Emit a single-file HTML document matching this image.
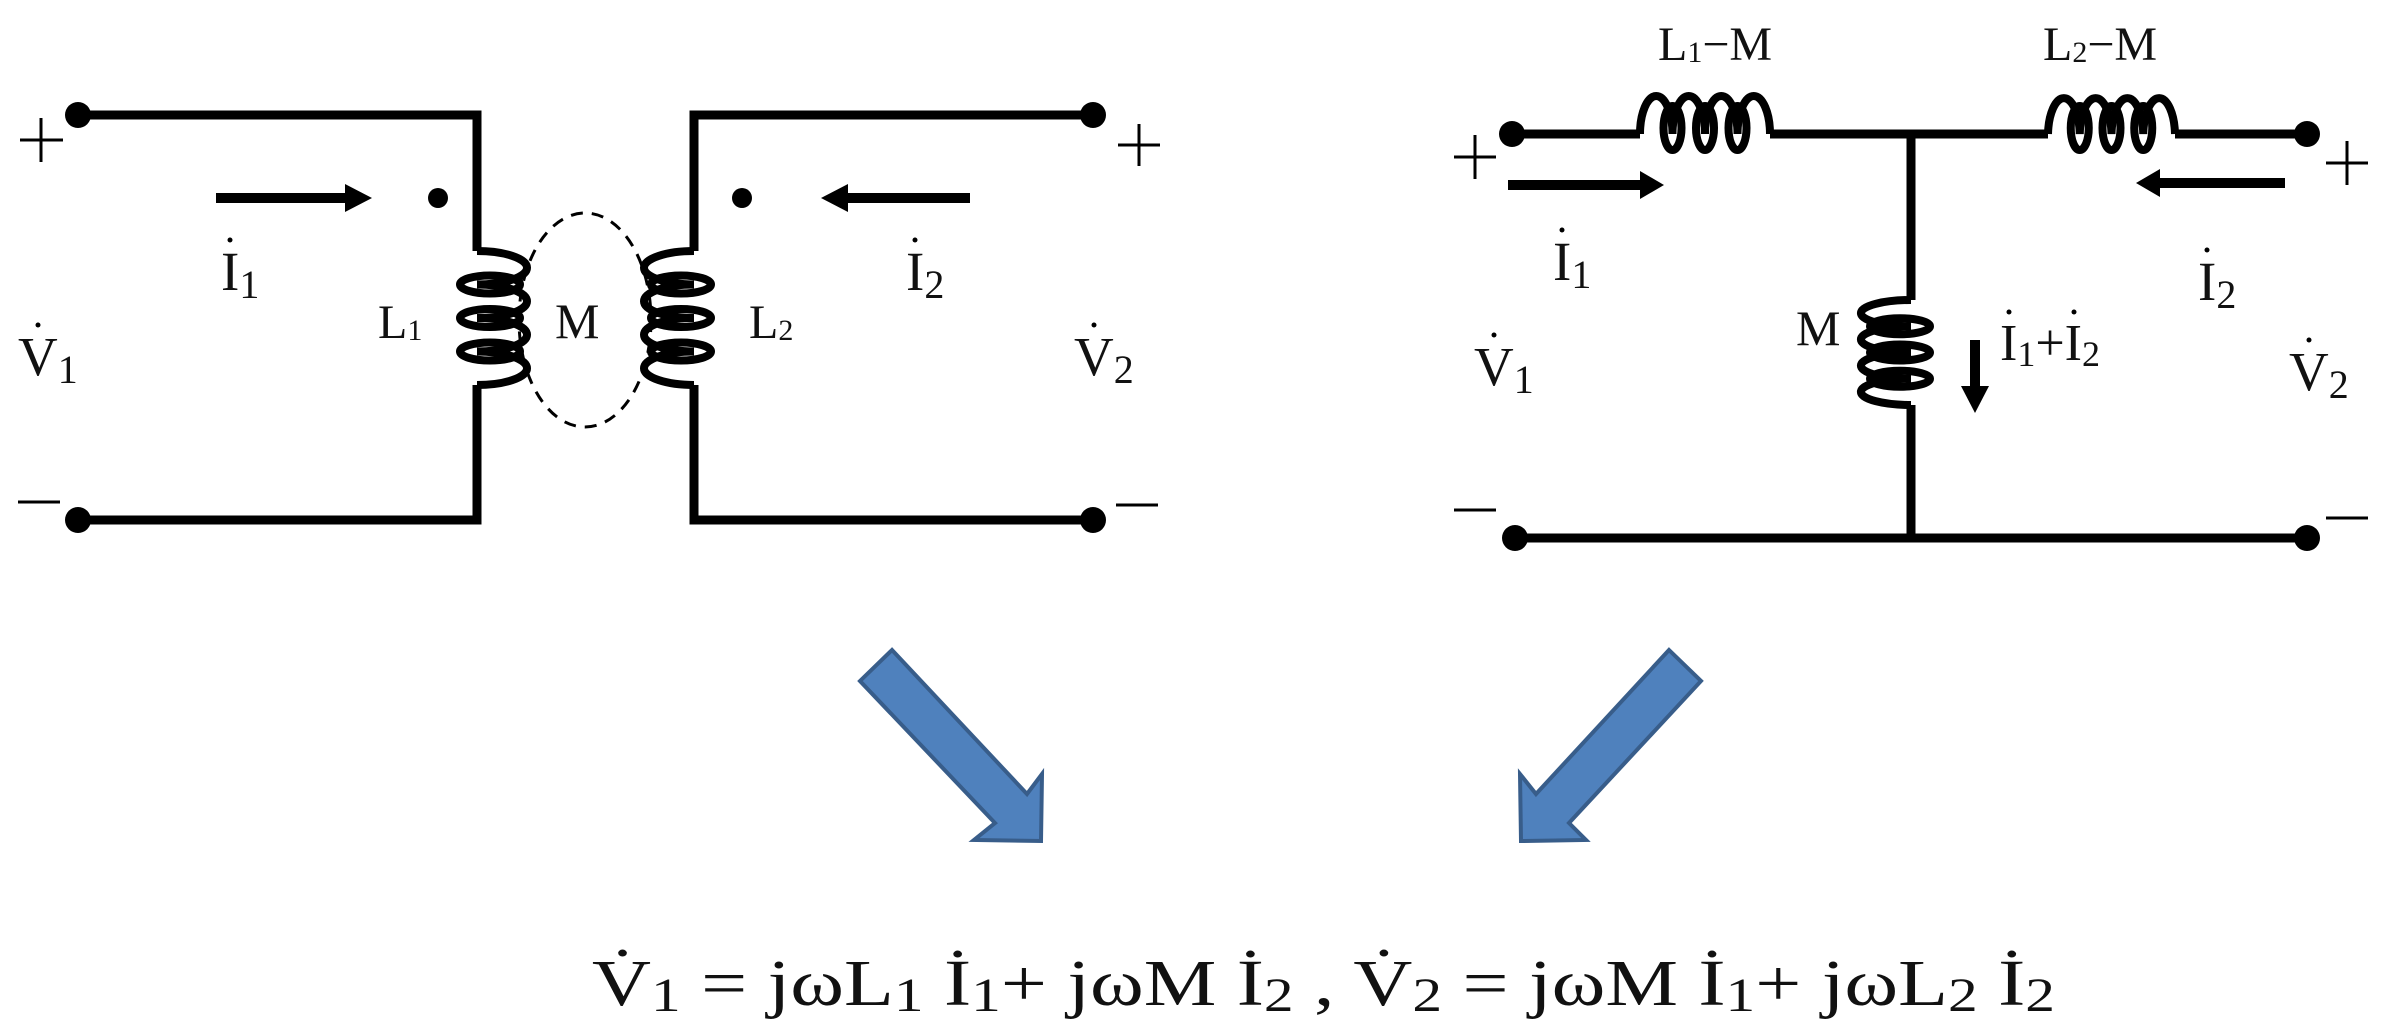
<!DOCTYPE html>
<html><head><meta charset="utf-8"><style>
html,body{margin:0;padding:0;background:#fff;}
svg{display:block;}
text{font-family:"Liberation Serif",serif;fill:#111;}
</style></head><body>
<svg width="2388" height="1026" viewBox="0 0 2388 1026" xmlns="http://www.w3.org/2000/svg">
<g fill="none" stroke="#000" stroke-width="9" stroke-linejoin="miter">
<path d="M78 115 H477 V251"/>
<path d="M477 385 V520 H78"/>
<path d="M694 251 V115 H1093"/>
<path d="M694 385 V520 H1093"/>
</g>
<g fill="none" stroke="#000" stroke-width="8">
<path d="M477 251 A50 16.75 0 0 1 477 284.5 A50 16.75 0 0 1 477 318 A50 16.75 0 0 1 477 351.5 A50 16.75 0 0 1 477 385"/>
<ellipse cx="490" cy="284.5" rx="30" ry="9"/>
<ellipse cx="490" cy="318" rx="30" ry="9"/>
<ellipse cx="490" cy="351.5" rx="30" ry="9"/>
<path d="M694 251 A50 16.75 0 0 0 694 284.5 A50 16.75 0 0 0 694 318 A50 16.75 0 0 0 694 351.5 A50 16.75 0 0 0 694 385"/>
<ellipse cx="681" cy="284.5" rx="30" ry="9"/>
<ellipse cx="681" cy="318" rx="30" ry="9"/>
<ellipse cx="681" cy="351.5" rx="30" ry="9"/>
</g>
<ellipse cx="585" cy="320" rx="66" ry="107" fill="none" stroke="#000" stroke-width="3" stroke-dasharray="12 9"/>
<g fill="#000">
<circle cx="78" cy="115" r="13"/><circle cx="78" cy="520" r="13"/>
<circle cx="1093" cy="115" r="13"/><circle cx="1093" cy="520" r="13"/>
<circle cx="438" cy="198" r="10"/><circle cx="742" cy="198" r="10"/>
<polygon points="345,184 372,198 345,212"/>
<polygon points="848,184 821,198 848,212"/>
</g>
<g stroke="#000" stroke-width="10">
<line x1="216" y1="198" x2="350" y2="198"/>
<line x1="843" y1="198" x2="970" y2="198"/>
</g>
<g stroke="#000" stroke-width="3">
<line x1="20" y1="140" x2="63" y2="140"/><line x1="41" y1="118" x2="41" y2="162"/>
<line x1="18" y1="502" x2="60" y2="502"/>
<line x1="1118" y1="145" x2="1160" y2="145"/><line x1="1139" y1="124" x2="1139" y2="166"/>
<line x1="1116" y1="505" x2="1158" y2="505"/>
</g>
<text x="221" y="290" font-size="55">I<tspan font-size="40" dy="8">1</tspan></text>
<circle cx="230" cy="240" r="2.5" fill="#000"/>
<text x="18" y="375" font-size="55">V<tspan font-size="40" dy="8">1</tspan></text>
<circle cx="38" cy="325" r="2.5" fill="#000"/>
<text x="906" y="290" font-size="55">I<tspan font-size="40" dy="8">2</tspan></text>
<circle cx="915" cy="240" r="2.5" fill="#000"/>
<text x="1074" y="375" font-size="55">V<tspan font-size="40" dy="8">2</tspan></text>
<circle cx="1094" cy="325" r="2.5" fill="#000"/>
<text x="378" y="338" font-size="48">L<tspan font-size="30" dy="2">1</tspan></text>
<text x="555" y="338" font-size="50">M</text>
<text x="749" y="338" font-size="48">L<tspan font-size="30" dy="2">2</tspan></text>

<g fill="none" stroke="#000" stroke-width="9">
<path d="M1512 134 H1640"/>
<path d="M1770 134 H2048"/>
<path d="M2175 134 H2307"/>
<path d="M1911 134 V300"/>
<path d="M1911 405 V538"/>
<path d="M1515 538 H2307"/>
</g>
<g fill="none" stroke="#000" stroke-width="8">
<path d="M1640 134 A16.25 38 0 0 1 1672.5 134 A16.25 38 0 0 1 1705 134 A16.25 38 0 0 1 1737.5 134 A16.25 38 0 0 1 1770 134"/>
<ellipse cx="1672.5" cy="128" rx="9" ry="22"/>
<ellipse cx="1705" cy="128" rx="9" ry="22"/>
<ellipse cx="1737.5" cy="128" rx="9" ry="22"/>
<path d="M2048 134 A15.9 38 0 0 1 2079.75 134 A15.9 38 0 0 1 2111.5 134 A15.9 38 0 0 1 2143.25 134 A15.9 38 0 0 1 2175 134"/>
<ellipse cx="2079.75" cy="128" rx="9" ry="22"/>
<ellipse cx="2111.5" cy="128" rx="9" ry="22"/>
<ellipse cx="2143.25" cy="128" rx="9" ry="22"/>
<path d="M1911 300 A50 13.1 0 0 0 1911 326.25 A50 13.1 0 0 0 1911 352.5 A50 13.1 0 0 0 1911 378.75 A50 13.1 0 0 0 1911 405"/>
<ellipse cx="1900" cy="326.25" rx="30" ry="8"/>
<ellipse cx="1900" cy="352.5" rx="30" ry="8"/>
<ellipse cx="1900" cy="378.75" rx="30" ry="8"/>
</g>
<g fill="#000">
<circle cx="1512" cy="134" r="13"/><circle cx="2307" cy="134" r="13"/>
<circle cx="1515" cy="538" r="13"/><circle cx="2307" cy="538" r="13"/>
<polygon points="1640,171 1664,185 1640,199"/>
<polygon points="2160,169 2136,183 2160,197"/>
<polygon points="1961,386 1975,413 1989,386"/>
</g>
<g stroke="#000" stroke-width="10">
<line x1="1508" y1="185" x2="1645" y2="185"/>
<line x1="2155" y1="183" x2="2285" y2="183"/>
<line x1="1975" y1="340" x2="1975" y2="390"/>
</g>
<g stroke="#000" stroke-width="3">
<line x1="1454" y1="157" x2="1496" y2="157"/><line x1="1475" y1="135" x2="1475" y2="179"/>
<line x1="1454" y1="510" x2="1496" y2="510"/>
<line x1="2326" y1="163" x2="2368" y2="163"/><line x1="2347" y1="141" x2="2347" y2="185"/>
<line x1="2326" y1="518" x2="2368" y2="518"/>
</g>
<text x="1658" y="60" font-size="48">L<tspan font-size="30" dy="2">1</tspan><tspan dy="-2">−M</tspan></text>
<text x="2043" y="60" font-size="48">L<tspan font-size="30" dy="2">2</tspan><tspan dy="-2">−M</tspan></text>
<text x="1796" y="345" font-size="50">M</text>
<text x="1553" y="280" font-size="55">I<tspan font-size="40" dy="8">1</tspan></text>
<circle cx="1562" cy="230" r="2.5" fill="#000"/>
<text x="1474" y="385" font-size="55">V<tspan font-size="40" dy="8">1</tspan></text>
<circle cx="1494" cy="335" r="2.5" fill="#000"/>
<text x="2000" y="360" font-size="52">I<tspan font-size="36" dy="6">1</tspan><tspan dy="-6">+I</tspan><tspan font-size="36" dy="6">2</tspan></text>
<circle cx="2009" cy="312" r="2.5" fill="#000"/><circle cx="2074" cy="312" r="2.5" fill="#000"/>
<text x="2198" y="300" font-size="55">I<tspan font-size="40" dy="8">2</tspan></text>
<circle cx="2207" cy="250" r="2.5" fill="#000"/>
<text x="2289" y="390" font-size="55">V<tspan font-size="40" dy="8">2</tspan></text>
<circle cx="2309" cy="340" r="2.5" fill="#000"/>

<g fill="#4f81bd" stroke="#385d8a" stroke-width="4" stroke-linejoin="miter">
<polygon points="892,650 860,681 995,823 974,840 1041,841 1042,774 1027,794"/>
<polygon points="1669,650 1701,681 1569,823 1586,840 1521,841 1520,774 1536,794"/>
</g>

<text x="592" y="1005" font-size="66" textLength="1463" lengthAdjust="spacingAndGlyphs">V̇<tspan font-size="48" dy="6">1</tspan><tspan dy="-6"> = jωL</tspan><tspan font-size="48" dy="6">1</tspan><tspan dy="-6"> İ</tspan><tspan font-size="48" dy="6">1</tspan><tspan dy="-6">+ jωM İ</tspan><tspan font-size="48" dy="6">2</tspan><tspan dy="-6">  , V̇</tspan><tspan font-size="48" dy="6">2</tspan><tspan dy="-6"> = jωM İ</tspan><tspan font-size="48" dy="6">1</tspan><tspan dy="-6">+ jωL</tspan><tspan font-size="48" dy="6">2</tspan><tspan dy="-6"> İ</tspan><tspan font-size="48" dy="6">2</tspan></text>
</svg>
</body></html>
